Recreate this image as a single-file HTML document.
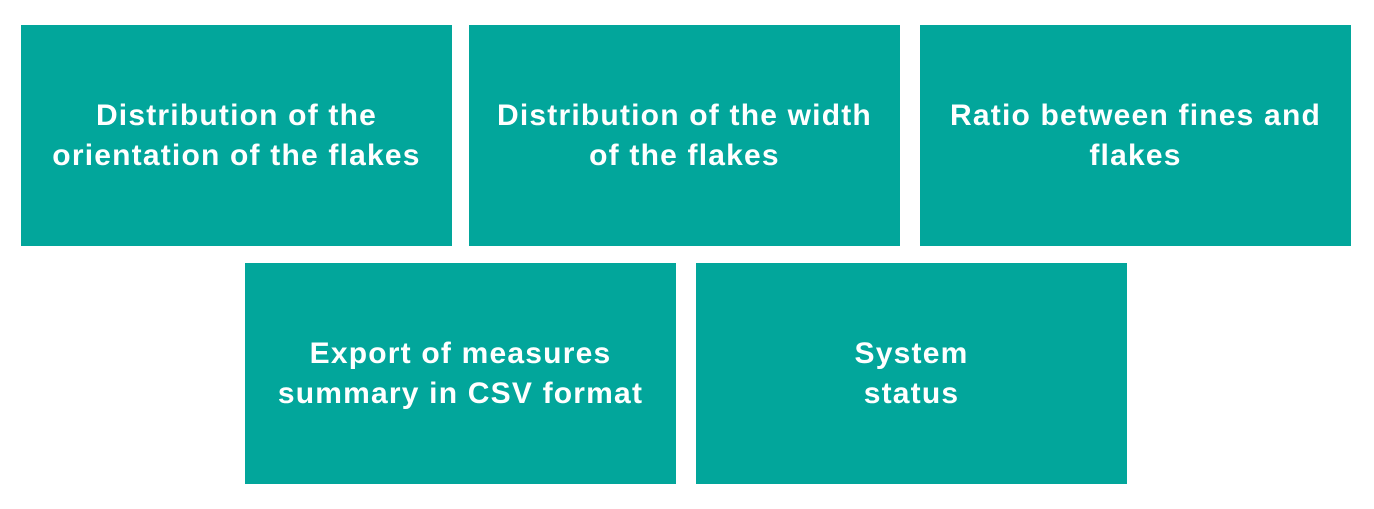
<!DOCTYPE html>
<html><head><style>
html,body{margin:0;padding:0;background:#fff;width:1374px;height:509px;overflow:hidden}
.b{position:absolute;width:431px;height:221px;background:#02A69B;color:#fff;display:flex;align-items:center;justify-content:center;text-align:center;font-family:"Liberation Sans",sans-serif;font-weight:bold;font-size:30px;letter-spacing:1.2px;line-height:40px}
</style></head><body>
<div class="b" style="left:21px;top:25px">Distribution of the<br>orientation of the flakes</div>
<div class="b" style="left:469px;top:25px">Distribution of the width<br>of the flakes</div>
<div class="b" style="left:920px;top:25px">Ratio between fines and<br>flakes</div>
<div class="b" style="left:245px;top:263px">Export of measures<br>summary in CSV format</div>
<div class="b" style="left:696px;top:263px">System<br>status</div>
</body></html>
